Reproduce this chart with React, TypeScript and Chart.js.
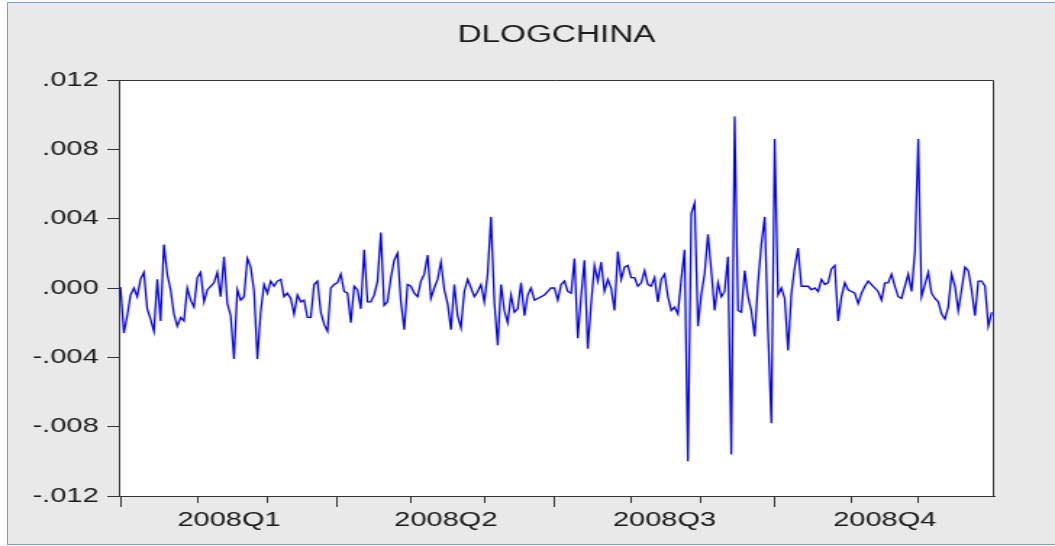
import { useEffect, useRef } from 'react';
import { Chart, registerables } from 'chart.js';

Chart.register(...registerables);

// DLOGCHINA: log-differences, 5-day weekly calendar, 2008 (262 observations)
const seriesName = 'DLOGCHINA';

const dlogChina: number[] = [
  0.00005, -0.0026, -0.0016, -0.0004, 0.0000, -0.0005, 0.0005, 0.0009, -0.0012, -0.0018,
  -0.0025, 0.0005, -0.0019, 0.0025, 0.0008, -0.0001, -0.0015, -0.0022, -0.0017, -0.0019,
  0.0000, -0.0007, -0.0011, 0.0006, 0.0009, -0.0008, -0.0001, 0.0001, 0.0003, 0.0009,
  -0.0005, 0.0018, -0.0009, -0.0016, -0.0041, -0.0001, -0.0007, -0.0005, 0.0017, 0.0012,
  -0.0002, -0.0041, -0.0014, 0.0002, -0.0003, 0.0004, 0.0001, 0.0004, 0.0005, -0.0005,
  -0.0003, -0.0006, -0.0015, -0.0004, -0.0008, -0.0007, -0.0017, -0.0017, 0.0002, 0.0004,
  -0.0014, -0.0021, -0.0025, 0.0000, 0.0002, 0.0003, 0.0008, -0.0002, -0.0003, -0.0020,
  0.0001, -0.0001, -0.0012, 0.0022, -0.0008, -0.0008, -0.0004, 0.0004, 0.0032, -0.0010,
  -0.0008, 0.0006, 0.0016, 0.0020, -0.0008, -0.0024, 0.0002, 0.0001, -0.0003, -0.0005,
  0.0004, 0.0008, 0.0019, -0.0006, 0.0000, 0.0005, 0.0015, -0.0001, -0.0009, -0.0024,
  0.0002, -0.0016, -0.0023, -0.0002, 0.0005, 0.0000, -0.0005, -0.0002, 0.0002, -0.0008,
  0.0008, 0.0041, -0.0008, -0.0033, 0.0002, -0.0013, -0.0020, -0.0004, -0.0014, -0.0012,
  0.0003, -0.0016, -0.0004, 0.0000, -0.0007, -0.0006, -0.0005, -0.0004, -0.0002, 0.0000,
  0.0000, -0.0007, 0.0002, 0.0004, -0.0002, -0.0003, 0.0017, -0.0029, -0.0005, 0.0016,
  -0.0035, -0.0009, 0.0013, 0.0004, 0.0015, -0.0002, 0.0005, 0.0000, -0.0013, 0.0021,
  0.0005, 0.0012, 0.0013, 0.0006, 0.0006, 0.0001, 0.0003, 0.0010, 0.0002, 0.0001,
  0.0006, -0.0008, 0.0005, 0.0008, -0.0005, -0.0013, -0.0011, -0.0015, 0.0005, 0.0022,
  -0.0100, 0.0043, 0.0049, -0.0022, -0.0004, 0.0008, 0.0031, 0.0010, -0.0013, 0.0003,
  -0.0005, -0.0002, 0.0018, -0.0096, 0.0099, -0.0013, -0.0014, 0.0010, -0.0005, -0.0013,
  -0.0028, 0.0003, 0.0025, 0.0041, -0.0025, -0.0078, 0.0086, -0.0004, 0.0000, -0.0006,
  -0.0036, -0.0003, 0.0012, 0.0023, 0.0001, 0.0001, 0.0001, -0.0001, 0.0000, -0.0002,
  0.0005, 0.0002, 0.0003, 0.0011, 0.0013, -0.0019, -0.0005, 0.0003, -0.0001, -0.0002,
  -0.0003, -0.0009, -0.0003, 0.0001, 0.0004, 0.0002, 0.0000, -0.0002, -0.0007, 0.0003,
  0.0003, 0.0008, 0.0001, -0.0005, -0.0006, 0.0001, 0.0008, -0.0002, 0.0021, 0.0086,
  -0.0005, 0.0002, 0.0009, -0.0003, -0.0006, -0.0008, -0.0015, -0.0018, -0.0011, 0.0008,
  0.0001, -0.0013, -0.0001, 0.0012, 0.0010, -0.0001, -0.0016, 0.0004, 0.0004, 0.0001,
  -0.0022, -0.0014,
];

// first observation of each month and of each quarter (index into dlogChina)
const monthStarts = [0, 23, 44, 65, 87, 109, 130, 153, 174, 196, 219, 239];
const quarterStarts = [0, 65, 130, 196];
const quarterLabels = ['2008Q1', '2008Q2', '2008Q3', '2008Q4'];
const yTickValues = [-0.012, -0.008, -0.004, 0, 0.004, 0.008, 0.012];

// The graph is laid out on a narrow canvas and displayed stretched across the page width.
const PAGE_W = 1055;
const PAGE_H = 546;
const CANVAS_W = 728;

const TEXT = '#1a1a1a';
const AXIS = '#333333';
const FONT = 'Liberation Sans, Arial, sans-serif';

const quarterMids = quarterStarts.map((s, k) =>
  (s + (k + 1 < quarterStarts.length ? quarterStarts[k + 1] : dlogChina.length)) / 2
);
const midLabel = new Map<number, string>(quarterMids.map((m, k) => [m, quarterLabels[k]]));

const formatY = (v: number) => {
  if (Math.abs(v) < 1e-12) return '.000';
  const s = Math.abs(v).toFixed(3).replace(/^0/, '');
  return (v < 0 ? '-' : '') + s;
};

const plotFrame = {
  id: 'plotFrame',
  beforeDraw(chart: Chart) {
    const { ctx, chartArea: a } = chart;
    ctx.save();
    ctx.fillStyle = '#ffffff';
    ctx.fillRect(a.left, a.top, a.right - a.left, a.bottom - a.top);
    ctx.restore();
  },
  afterDraw(chart: Chart) {
    const { ctx, chartArea: a } = chart;
    ctx.save();
    ctx.strokeStyle = AXIS;
    ctx.lineWidth = 1;
    ctx.beginPath();
    ctx.moveTo(a.left, Math.round(a.top) + 0.5);
    ctx.lineTo(Math.round(a.right) - 0.5, Math.round(a.top) + 0.5);
    ctx.lineTo(Math.round(a.right) - 0.5, a.bottom);
    ctx.stroke();
    ctx.restore();
  },
};

export default function App() {
  const canvasRef = useRef<HTMLCanvasElement | null>(null);

  useEffect(() => {
    const canvas = canvasRef.current;
    if (!canvas) return;

    const chart = new Chart(canvas, {
      type: 'line',
      data: {
        datasets: [
          {
            label: seriesName,
            data: dlogChina.map((v, i) => ({ x: i, y: v })),
            borderColor: '#0000ff',
            borderWidth: 1.3,
            pointRadius: 0,
            tension: 0,
            fill: false,
          },
        ],
      },
      options: {
        animation: false,
        responsive: false,
        devicePixelRatio: 1,
        events: [],
        layout: { padding: { left: 0, right: 42, top: 0, bottom: 0 } },
        plugins: {
          legend: { display: false },
          tooltip: { enabled: false },
          title: {
            display: true,
            text: seriesName,
            fullSize: false,
            color: TEXT,
            font: { family: FONT, size: 23, weight: 'normal', lineHeight: 1.2 },
            padding: { top: 22, bottom: 30.4 },
          },
        },
        scales: {
          x: {
            type: 'linear',
            min: -0.5,
            max: 261.75,
            border: { display: true, color: AXIS, width: 1 },
            grid: {
              drawOnChartArea: false,
              drawTicks: true,
              tickLength: 11,
              tickColor: AXIS,
              tickWidth: (c: any) => (midLabel.has(c.tick?.value) ? 0 : 1),
              tickBorderDash: (c: any) =>
                quarterStarts.includes(c.tick?.value) ? [] : [6, 30],
            },
            ticks: {
              autoSkip: false,
              maxRotation: 0,
              minRotation: 0,
              padding: 1,
              color: TEXT,
              font: { family: FONT, size: 20 },
              callback: (value: any) => midLabel.get(Number(value)) ?? '',
            },
            afterBuildTicks: (scale: any) => {
              const vals = [...monthStarts, ...quarterMids].sort((a, b) => a - b);
              scale.ticks = vals.map((v) => ({ value: v }));
            },
            afterFit: (scale: any) => {
              scale.height = 50;
            },
          },
          y: {
            type: 'linear',
            min: -0.012,
            max: 0.012,
            border: { display: true, color: AXIS, width: 1 },
            grid: {
              drawOnChartArea: false,
              drawTicks: true,
              tickLength: 8,
              tickColor: AXIS,
            },
            ticks: {
              padding: 6,
              color: TEXT,
              font: { family: FONT, size: 20 },
              callback: (value: any) => formatY(Number(value)),
            },
            afterBuildTicks: (scale: any) => {
              scale.ticks = yTickValues.map((v) => ({ value: v }));
            },
            afterFit: (scale: any) => {
              scale.width = 82;
            },
          },
        },
      },
      plugins: [plotFrame],
    });

    return () => chart.destroy();
  }, []);

  return (
    <div
      style={{
        position: 'fixed',
        left: 0,
        top: 0,
        width: PAGE_W,
        height: PAGE_H,
        overflow: 'hidden',
        background: '#ffffff',
      }}
    >
      <div
        style={{
          position: 'absolute',
          left: 7,
          top: 2,
          width: PAGE_W + 10,
          height: 541,
          border: '1px solid #7f9dd0',
          background: '#e9e9e9',
        }}
      />
      <canvas
        ref={canvasRef}
        width={CANVAS_W}
        height={PAGE_H}
        style={{
          position: 'absolute',
          left: 0,
          top: 0,
          width: `${PAGE_W}px`,
          height: `${PAGE_H}px`,
        }}
      />
    </div>
  );
}
